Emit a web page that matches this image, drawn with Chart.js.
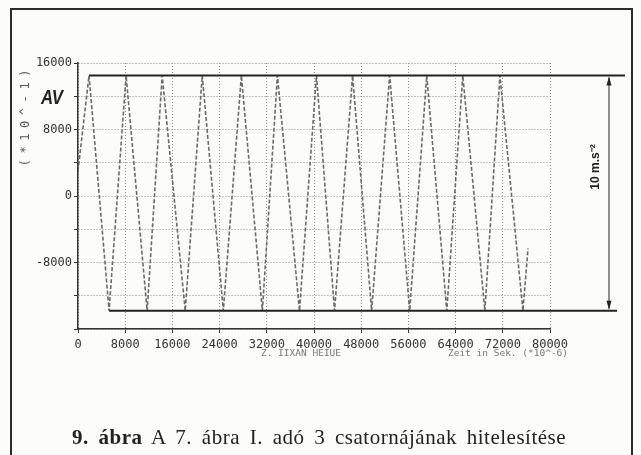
<!DOCTYPE html>
<html>
<head>
<meta charset="utf-8">
<script src="https://cdn.jsdelivr.net/npm/chart.js@4/dist/chart.umd.min.js"></script>
<style>
  html, body { margin: 0; padding: 0; background: #fcfcfa; }
  #wrap { position: relative; width: 641px; height: 455px; overflow: hidden; }
  #frame { position: absolute; left: 10px; top: 8px; width: 619px; height: 520px; border: 2px solid #2b2b2b; }
  #chart { position: absolute; left: 0; top: 0; }
  #caption {
    position: absolute; left: 72px; top: 425px; white-space: nowrap;
    font-family: 'Liberation Serif', serif; font-size: 21px; color: #222;
    letter-spacing: 0.5px; word-spacing: 4px;
  }
</style>
</head>
<body>
<div id="wrap">
  <div id="frame"></div>
  <canvas id="chart" width="641" height="455"></canvas>
  <div id="caption"><b>9. ábra</b> A 7. ábra I. adó 3 csatornájának hitelesítése</div>
</div>
<script>
// jel: idő (µs, *10^-6 s) és amplitúdó (*10^-1)
const times = [0, 1870, 5270, 8150, 11720, 14270, 18170, 21060, 24630, 27690, 31250, 33800,
    37540, 40420, 43480, 46540, 49770, 52820, 56220, 59110, 62510, 65220, 68960, 71510, 75410, 76280];
const values = [3000, 14500, -13800, 14500, -13800, 14500, -13800, 14500, -13800, 14500, -13800, 14500,
    -13800, 14500, -13800, 14500, -13800, 14500, -13800, 14500, -13800, 14500, -13800, 14500, -13800, -6300];
const xTicks = [0, 8000, 16000, 24000, 32000, 40000, 48000, 56000, 64000, 72000, 80000];
const yTicks = [16000, 8000, 0, -8000];

// hitelesítő szintek (felső / alsó csúcs)
const topLevel = 14500;
const bottomLevel = -13800;
const calibLabel = '10 m.s⁻²';
const yUnit = '(*10^-1)';
const yName = 'AV';
const xNameLeft = 'Z. IIXAN HEIUE';
const xNameRight = 'Zeit in Sek. (*10^-6)';

const monoFont = "'DejaVu Sans Mono', monospace";

const annotPlugin = {
    id: 'annot',
    afterDraw(chart) {
        const { ctx, scales: { x, y } } = chart;
        const yTop = y.getPixelForValue(topLevel);
        const yBot = y.getPixelForValue(bottomLevel);
        const xTop = x.getPixelForValue(times[1]);
        const xBot = x.getPixelForValue(times[2]);
        const arrowX = 609;

        ctx.save();
        // vastag vízszintes vonalak
        ctx.strokeStyle = '#222';
        ctx.lineWidth = 2;
        ctx.beginPath();
        ctx.moveTo(xTop, yTop); ctx.lineTo(625, yTop);
        ctx.moveTo(xBot, yBot); ctx.lineTo(617, yBot);
        ctx.stroke();

        // méretnyíl
        ctx.lineWidth = 1;
        ctx.beginPath();
        ctx.moveTo(arrowX, yTop + 2); ctx.lineTo(arrowX, yBot - 2);
        ctx.stroke();
        ctx.fillStyle = '#222';
        ctx.beginPath();
        ctx.moveTo(arrowX, yTop + 1); ctx.lineTo(arrowX - 2.5, yTop + 10); ctx.lineTo(arrowX + 2.5, yTop + 10);
        ctx.closePath(); ctx.fill();
        ctx.beginPath();
        ctx.moveTo(arrowX, yBot - 1); ctx.lineTo(arrowX - 2.5, yBot - 10); ctx.lineTo(arrowX + 2.5, yBot - 10);
        ctx.closePath(); ctx.fill();

        // 10 m.s-2
        ctx.save();
        ctx.translate(596, 167);
        ctx.rotate(-Math.PI / 2);
        ctx.font = "bold 12px 'Liberation Sans', sans-serif";
        ctx.textAlign = 'center';
        ctx.textBaseline = 'middle';
        ctx.fillText(calibLabel, 0, 0);
        ctx.restore();

        // y tengely felirat
        ctx.save();
        ctx.translate(26, 118);
        ctx.rotate(-Math.PI / 2);
        ctx.font = '12px ' + monoFont;
        ctx.fillStyle = '#555';
        ctx.textAlign = 'center';
        ctx.textBaseline = 'middle';
        const chars = yUnit.split('');
        chars.forEach((c, i) => ctx.fillText(c, (i - (chars.length - 1) / 2) * 12.8, 0));
        ctx.restore();

        ctx.save();
        ctx.translate(52, 98);
        ctx.scale(0.8, 1);
        ctx.font = "italic bold 21px 'Liberation Sans', sans-serif";
        ctx.fillStyle = '#222';
        ctx.textAlign = 'center';
        ctx.textBaseline = 'middle';
        ctx.fillText(yName, 0, 0);
        ctx.restore();

        // x tengely felirat
        ctx.font = '9.5px ' + monoFont;
        ctx.fillStyle = '#777';
        ctx.textAlign = 'center';
        ctx.textBaseline = 'middle';
        ctx.fillText(xNameLeft, 301, 354);
        ctx.fillText(xNameRight, 508, 354);
        ctx.restore();
    }
};

new Chart(document.getElementById('chart'), {
    type: 'line',
    data: {
        datasets: [{
            data: times.map((t, i) => ({ x: t, y: values[i] })),
            borderColor: '#6a6a6a',
            borderWidth: 1.6,
            borderDash: [4, 2],
            pointRadius: 0,
            tension: 0,
            fill: false,
        }],
    },
    options: {
        responsive: false,
        animation: false,
        devicePixelRatio: 1,
        layout: { padding: { left: 0, right: 91, top: 63, bottom: 0 } },
        plugins: { legend: { display: false }, tooltip: { enabled: false } },
        scales: {
            x: {
                type: 'linear',
                min: 0,
                max: 80000,
                afterFit: s => { s.height = 126; },
                afterBuildTicks: s => { s.ticks = xTicks.map(v => ({ value: v })); },
                grid: { color: '#8c8c8c', lineWidth: 1, tickLength: 4, tickColor: '#333' },
                border: { display: true, color: '#333', width: 1.5, dash: [1, 2] },
                ticks: {
                    color: '#333',
                    padding: 5,
                    maxRotation: 0,
                    autoSkip: false,
                    font: { family: monoFont, size: 12 },
                    callback: v => String(v),
                },
            },
            y: {
                min: -16000,
                max: 16000,
                afterFit: s => { s.width = 78; },
                ticks: {
                    stepSize: 4000,
                    color: '#333',
                    padding: 2,
                    font: { family: monoFont, size: 12 },
                    callback: v => yTicks.includes(v) ? String(v) : '',
                },
                grid: { color: '#8c8c8c', lineWidth: 1, tickLength: 4, tickColor: '#333' },
                border: { display: true, color: '#333', width: 1.5, dash: [1, 2] },
            },
        },
    },
    plugins: [annotPlugin],
});
</script>
</body>
</html>
